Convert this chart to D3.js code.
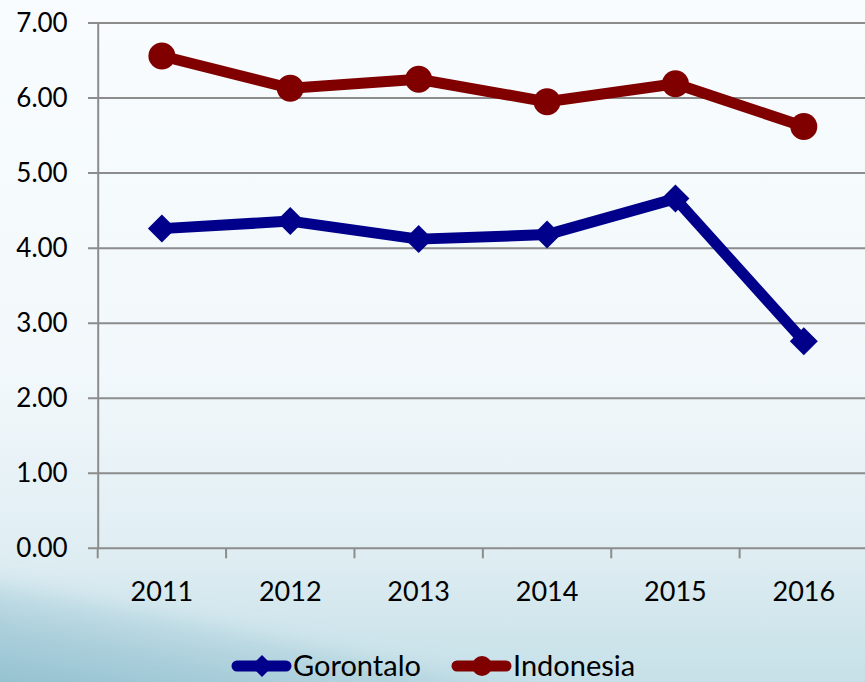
<!DOCTYPE html>
<html>
<head>
<meta charset="utf-8">
<script src="https://cdn.jsdelivr.net/npm/d3@7"></script>
<style>
  html, body { margin: 0; padding: 0; overflow: hidden; }
  svg { display: block; }
  text { font-family: Lato, "Open Sans", sans-serif; fill: #000; }
</style>
</head>
<body>
<div id="chart"></div>
<script>
const years = ["2011", "2012", "2013", "2014", "2015", "2016"];
const gorontalo = [4.26, 4.36, 4.12, 4.18, 4.66, 2.76];
const indonesia = [6.56, 6.13, 6.25, 5.95, 6.19, 5.62];
const yTicks = [0, 1, 2, 3, 4, 5, 6, 7];

const width = 865;
const height = 682;

const svg = d3.select("#chart")
    .append("svg")
    .attr("width", width)
    .attr("height", height);

// background
const defs = svg.append("defs");
const bg = defs.append("linearGradient")
    .attr("id", "bg")
    .attr("x1", 0).attr("y1", 0).attr("x2", 0).attr("y2", 1);
bg.append("stop").attr("offset", "0%").attr("stop-color", "#f8fcfe");
bg.append("stop").attr("offset", "55%").attr("stop-color", "#f2f8fb");
bg.append("stop").attr("offset", "80%").attr("stop-color", "#e0eef3");
bg.append("stop").attr("offset", "100%").attr("stop-color", "#c6e0e8");

const swoosh = defs.append("linearGradient")
    .attr("id", "swoosh")
    .attr("x1", 0).attr("y1", 1).attr("x2", 0.8).attr("y2", 0);
swoosh.append("stop").attr("offset", "0%").attr("stop-color", "#80b4c6").attr("stop-opacity", 1);
swoosh.append("stop").attr("offset", "50%").attr("stop-color", "#a4cbd8").attr("stop-opacity", 0.7);
swoosh.append("stop").attr("offset", "100%").attr("stop-color", "#c6e0e8").attr("stop-opacity", 0);

defs.append("filter")
    .attr("id", "soft")
    .attr("x", "-20%").attr("y", "-50%").attr("width", "140%").attr("height", "200%")
    .append("feGaussianBlur")
    .attr("stdDeviation", 12);

svg.append("rect")
    .attr("width", width)
    .attr("height", height)
    .attr("fill", "url(#bg)");

svg.append("path")
    .attr("d", "M-40,580 C120,605 300,650 560,700 L-40,720 Z")
    .attr("fill", "url(#swoosh)")
    .attr("filter", "url(#soft)");

svg.append("path")
    .attr("d", "M0,608 C120,628 260,662 360,690")
    .attr("fill", "none")
    .attr("stroke", "#d6ebf1")
    .attr("stroke-width", 4)
    .attr("opacity", 0.5)
    .attr("filter", "url(#soft)");

// scales
const x = d3.scaleBand()
    .domain(years)
    .range([97.7, 868]);

const y = d3.scaleLinear()
    .domain([0, 7])
    .range([548.3, 23]);

// gridlines
svg.append("g")
    .selectAll("line")
    .data(yTicks)
    .enter()
    .append("line")
    .attr("x1", 88)
    .attr("x2", width)
    .attr("y1", d => y(d))
    .attr("y2", d => y(d))
    .attr("stroke", "#8c8c8c")
    .attr("stroke-width", 2);

// y axis
const yAxis = svg.append("g")
    .attr("transform", "translate(97.7,0)")
    .call(d3.axisLeft(y).tickValues(yTicks).tickFormat(d3.format(".2f")).tickSize(0).tickPadding(30));
yAxis.select(".domain")
    .attr("stroke", "#8c8c8c")
    .attr("stroke-width", 2);
yAxis.selectAll("text")
    .attr("font-size", 26)
    .attr("font-family", "Lato, sans-serif")
    .attr("fill", "#000");

// x axis
const xAxis = svg.append("g")
    .attr("transform", `translate(0,${y(0)})`)
    .call(d3.axisBottom(x).tickSize(0).tickPadding(34));
xAxis.select(".domain").remove();
xAxis.selectAll("text")
    .attr("font-size", 27)
    .attr("font-family", "Lato, sans-serif")
    .attr("fill", "#000");

svg.append("g")
    .selectAll("line")
    .data(years)
    .enter()
    .append("line")
    .attr("x1", d => x(d))
    .attr("x2", d => x(d))
    .attr("y1", y(0))
    .attr("y2", y(0) + 10)
    .attr("stroke", "#8c8c8c")
    .attr("stroke-width", 2);

// lines
const line = d3.line()
    .x((d, i) => x(years[i]) + x.bandwidth() / 2)
    .y(d => y(d));

const series = [
    { name: "Gorontalo", values: gorontalo, color: "#00008b", marker: "diamond" },
    { name: "Indonesia", values: indonesia, color: "#800000", marker: "circle" }
];

series.forEach(s => {
    svg.append("path")
        .datum(s.values)
        .attr("d", line)
        .attr("fill", "none")
        .attr("stroke", s.color)
        .attr("stroke-width", 11)
        .attr("stroke-linejoin", "round");

    const pts = svg.append("g");
    if (s.marker === "circle") {
        pts.selectAll("circle")
            .data(s.values)
            .enter()
            .append("circle")
            .attr("cx", (d, i) => x(years[i]) + x.bandwidth() / 2)
            .attr("cy", d => y(d))
            .attr("r", 13.5)
            .attr("fill", s.color);
    } else {
        pts.selectAll("path")
            .data(s.values)
            .enter()
            .append("path")
            .attr("transform", (d, i) => `translate(${x(years[i]) + x.bandwidth() / 2},${y(d)})`)
            .attr("d", "M0,-14L14,0L0,14L-14,0Z")
            .attr("fill", s.color);
    }
});

// legend
const legendItems = [
    { name: "Gorontalo", color: "#00008b", marker: "diamond", x0: 232 },
    { name: "Indonesia", color: "#800000", marker: "circle", x0: 452 }
];
const ly = 666;

const legend = svg.append("g");
legendItems.forEach(it => {
    const g = legend.append("g").attr("transform", `translate(${it.x0},${ly})`);
    g.append("line")
        .attr("x1", 5).attr("x2", 54)
        .attr("y1", 0).attr("y2", 0)
        .attr("stroke", it.color)
        .attr("stroke-width", 11)
        .attr("stroke-linecap", "round");
    if (it.marker === "circle") {
        g.append("circle").attr("cx", 30).attr("r", 10).attr("fill", it.color);
    } else {
        g.append("path").attr("transform", "translate(30,0)")
            .attr("d", "M0,-11L11,0L0,11L-11,0Z").attr("fill", it.color);
    }
    g.append("text")
        .attr("x", 61)
        .attr("y", 10)
        .attr("font-size", 29)
        .text(it.name);
});
</script>
</body>
</html>
